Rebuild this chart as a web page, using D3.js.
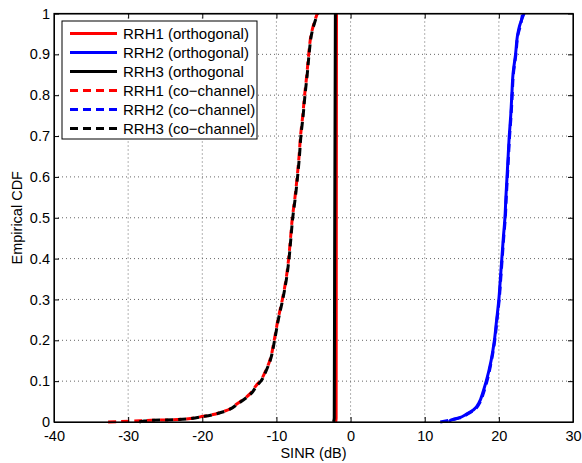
<!DOCTYPE html>
<html>
<head>
<meta charset="utf-8">
<script src="https://cdn.jsdelivr.net/npm/d3@7"></script>
<style>
  body { margin: 0; background: #fff; }
  svg text { font-family: "Liberation Sans", Arial, Helvetica, sans-serif; }
</style>
</head>
<body>
<div id="chart"></div>
<script>
// cdf levels
var cdfLow = [0, 0.002, 0.004, 0.006, 0.014, 0.026, 0.046, 0.07, 0.09, 0.1, 0.123, 0.15, 0.2, 0.25, 0.3,
              0.35, 0.4, 0.45, 0.5, 0.55, 0.6, 0.65, 0.7, 0.75, 0.8, 0.85, 0.9, 0.95, 1];
var rrh1Co = [-32.7, -29.5, -26.9, -23.3, -19.8, -17.1, -15.2, -13.5, -12.7, -12.2, -11.5, -10.9, -10.3, -9.8, -9.2,
              -8.7, -8.35, -8.1, -7.85, -7.5, -7.2, -6.95, -6.75, -6.45, -6.2, -5.9, -5.65, -5.3, -4.5];
var rrh3Co = [-28.5, -28.0, -26.8, -23.2, -19.7, -17.0, -15.1, -13.4, -12.6, -12.1, -11.45, -10.85, -10.25, -9.75, -9.15,
              -8.65, -8.3, -8.05, -7.8, -7.45, -7.15, -6.9, -6.7, -6.4, -6.15, -5.85, -5.6, -5.25, -4.45];

var cdfHigh = [0, 0.005, 0.01, 0.02, 0.03, 0.05, 0.07, 0.1, 0.15, 0.2, 0.25, 0.3, 0.35, 0.4, 0.45,
               0.5, 0.55, 0.6, 0.65, 0.7, 0.75, 0.8, 0.85, 0.9, 0.95, 0.97, 1];
var rrh2Orth = [13.3, 13.6, 14.6, 15.7, 16.6, 17.4, 17.8, 18.3, 18.95, 19.4, 19.7, 20.0, 20.2, 20.4, 20.6,
                20.82, 20.95, 21.1, 21.25, 21.4, 21.6, 21.75, 21.9, 22.25, 22.55, 22.8, 23.4];
var rrh2Co = [12.1, 13.5, 14.7, 15.8, 16.7, 17.5, 17.9, 18.4, 19.0, 19.45, 19.75, 20.05, 20.25, 20.45, 20.65,
              20.87, 21.0, 21.15, 21.3, 21.45, 21.65, 21.8, 21.95, 22.3, 22.6, 22.9, 23.2];

var cdfFlat = [0, 0.01, 0.4, 1];
var rrh1Orth = [-2.0, -1.95, -1.93, -1.9];
var rrh3Orth = [-2.3, -2.2, -2.15, -2.05];

var xTicks = [-40, -30, -20, -10, 0, 10, 20, 30];
var yTicks = [0, 0.1, 0.2, 0.3, 0.4, 0.5, 0.6, 0.7, 0.8, 0.9, 1];

var series = [
  {name: "RRH1 (orthogonal)", x: rrh1Orth, y: cdfFlat, color: "#ff0000", dash: null},
  {name: "RRH2 (orthogonal)", x: rrh2Orth, y: cdfHigh, color: "#0000ff", dash: null},
  {name: "RRH3 (orthogonal", x: rrh3Orth, y: cdfFlat, color: "#000000", dash: null},
  {name: "RRH1 (co\u2212channel)", x: rrh1Co, y: cdfLow, color: "#ff0000", dash: "8,5"},
  {name: "RRH2 (co\u2212channel)", x: rrh2Co, y: cdfHigh, color: "#0000ff", dash: "8,5"},
  {name: "RRH3 (co\u2212channel)", x: rrh3Co, y: cdfLow, color: "#000000", dash: "8,5"}
];

var W = 582, H = 463;
var margin = {top: 13.5, right: 9, bottom: 41, left: 54};
var width = W - margin.left - margin.right;
var height = H - margin.top - margin.bottom;
var fs = 14.5;

var svg = d3.select("#chart").append("svg")
    .attr("width", W)
    .attr("height", H);

var g = svg.append("g")
    .attr("transform", "translate(" + margin.left + "," + margin.top + ")");

var x = d3.scaleLinear().domain([-40, 30]).range([0, width]);
var y = d3.scaleLinear().domain([0, 1]).range([height, 0]);

// grid
g.append("g").selectAll("line")
    .data(xTicks.slice(1, -1))
    .enter().append("line")
    .attr("x1", d => x(d)).attr("x2", d => x(d))
    .attr("y1", 0).attr("y2", height)
    .attr("stroke", "#666").attr("stroke-width", 1)
    .attr("stroke-dasharray", "1,3");
g.append("g").selectAll("line")
    .data(yTicks.slice(1, -1))
    .enter().append("line")
    .attr("y1", d => y(d)).attr("y2", d => y(d))
    .attr("x1", 0).attr("x2", width)
    .attr("stroke", "#666").attr("stroke-width", 1)
    .attr("stroke-dasharray", "1,3");

// curves
var line = d3.line()
    .x(d => x(d[0]))
    .y(d => y(d[1]))
    .curve(d3.curveMonotoneY);

series.forEach(function(s) {
  var pts = s.x.map((v, i) => [v, s.y[i]]);
  g.append("path")
      .datum(pts)
      .attr("fill", "none")
      .attr("stroke", s.color)
      .attr("stroke-width", 3)
      .attr("stroke-dasharray", s.dash)
      .attr("d", line);
});

// axes with inward ticks (matlab style)
var fmt = d => String(d);
g.append("g")
    .attr("transform", "translate(0," + height + ")")
    .call(d3.axisBottom(x).tickValues(xTicks).tickSizeInner(-5).tickSizeOuter(0).tickPadding(8.5).tickFormat(fmt));
g.append("g")
    .call(d3.axisTop(x).tickValues(xTicks).tickSizeInner(-5).tickSizeOuter(0).tickFormat(""));
g.append("g")
    .call(d3.axisLeft(y).tickValues(yTicks).tickSizeInner(-5).tickSizeOuter(0).tickPadding(4).tickFormat(fmt));
g.append("g")
    .attr("transform", "translate(" + width + ",0)")
    .call(d3.axisRight(y).tickValues(yTicks).tickSizeInner(-5).tickSizeOuter(0).tickFormat(""));

g.selectAll(".domain").attr("stroke", "#000");
g.selectAll(".tick line").attr("stroke", "#000");
g.selectAll(".tick text").attr("font-size", fs).attr("fill", "#000");

g.append("rect")
    .attr("width", width).attr("height", height)
    .attr("fill", "none").attr("stroke", "#000").attr("stroke-width", 1.2);

// labels
svg.append("text")
    .attr("x", margin.left + width / 2)
    .attr("y", 458)
    .attr("text-anchor", "middle")
    .attr("font-size", fs)
    .text("SINR (dB)");
svg.append("text")
    .attr("transform", "translate(22," + (margin.top + height / 2) + ") rotate(-90)")
    .attr("text-anchor", "middle")
    .attr("font-size", fs)
    .text("Empirical CDF");

// legend
var leg = svg.append("g").attr("transform", "translate(62,21)");
leg.append("rect")
    .attr("width", 195).attr("height", 118)
    .attr("fill", "#fff").attr("stroke", "#000").attr("stroke-width", 1);
var items = leg.selectAll(".item")
    .data(series)
    .enter().append("g")
    .attr("transform", (d, i) => "translate(0," + (12.5 + i * 19) + ")");
items.append("line")
    .attr("x1", 8).attr("x2", 55)
    .attr("stroke", d => d.color)
    .attr("stroke-width", 3)
    .attr("stroke-dasharray", d => d.dash);
items.append("text")
    .attr("x", 61)
    .attr("dy", "0.35em")
    .attr("font-size", 15)
    .text(d => d.name);
</script>
</body>
</html>
